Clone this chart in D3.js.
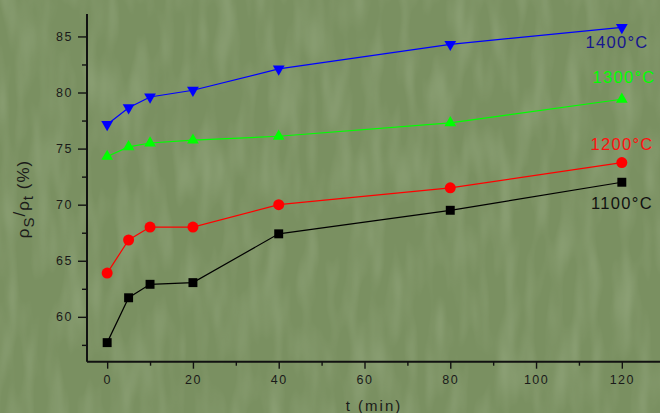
<!DOCTYPE html>
<html>
<head>
<meta charset="utf-8">
<script src="https://cdn.jsdelivr.net/npm/d3@7"></script>
<style>
  html, body { margin: 0; padding: 0; background: #7b9162; }
  svg { display: block; font-family: "Liberation Sans", Arial, sans-serif; }
</style>
</head>
<body>
<svg id="chart"></svg>
<script>
const width = 660, height = 413

// sintering time (min)
const times = [0, 5, 10, 20, 40, 80, 120]
const series_names = ["1100°C", "1200°C", "1300°C", "1400°C"]
// relative density rho_s / rho_t (%)
const d1100 = [57.7, 61.7, 62.9, 63.05, 67.4, 69.5, 72.0]
const d1200 = [63.9, 66.85, 68.0, 68.0, 70.0, 71.5, 73.75]
const d1300 = [74.3, 75.15, 75.5, 75.75, 76.1, 77.3, 79.4]
const d1400 = [77.15, 78.65, 79.6, 80.2, 82.1, 84.3, 85.8]
const x_ticks = [0, 20, 40, 60, 80, 100, 120]
const x_minor = [10, 30, 50, 70, 90, 110]
const y_ticks = [60, 65, 70, 75, 80, 85]
const y_minor = [57.5, 62.5, 67.5, 72.5, 77.5, 82.5]

const styles = [
    {name: series_names[0], values: d1100, color: "#000000", label_color: "#111111", symbol: d3.symbolSquare, size: 80, lx: 622, ly: 203},
    {name: series_names[1], values: d1200, color: "#ff0000", label_color: "#ff1010", symbol: d3.symbolCircle, size: 95, lx: 622, ly: 144},
    {name: series_names[2], values: d1300, color: "#00ff00", label_color: "#00ff00", symbol: d3.symbolTriangle, size: 60, rot: 0, lx: 624, ly: 77},
    {name: series_names[3], values: d1400, color: "#0000ff", label_color: "#16168f", symbol: d3.symbolTriangle, size: 60, rot: 180, lx: 617, ly: 42}
]

const svg = d3.select("#chart")
    .attr("width", width)
    .attr("height", height)

// textured green background
const defs = svg.append("defs")
const filt = defs.append("filter").attr("id", "grain")
    .attr("x", 0).attr("y", 0).attr("width", "100%").attr("height", "100%")
filt.append("feTurbulence")
    .attr("type", "fractalNoise")
    .attr("baseFrequency", "0.06 0.015")
    .attr("numOctaves", 2)
    .attr("seed", 7)
filt.append("feColorMatrix")
    .attr("type", "matrix")
    .attr("values", "0 0 0 0 0.58  0 0 0 0 0.68  0 0 0 0 0.48  0 0 0 1.4 -0.55")

svg.append("rect").attr("width", width).attr("height", height).attr("fill", "#7a9061")
svg.append("rect").attr("width", width).attr("height", height)
    .attr("filter", "url(#grain)").attr("opacity", 0.3)

const x = d3.scaleLinear().domain([-4.7, 128.9]).range([87, 660])
const y = d3.scaleLinear().domain([56, 87]).range([361.7, 14])

// axes
const xaxis = svg.append("g")
    .attr("transform", `translate(0,${y(56)})`)
    .call(d3.axisBottom(x).tickValues(x_ticks).tickSize(7).tickPadding(6).tickFormat(d3.format("d")))
svg.append("g")
    .attr("transform", `translate(0,${y(56)})`)
    .call(d3.axisBottom(x).tickValues(x_minor).tickSize(4).tickFormat(""))
    .call(g => g.select(".domain").remove())

const yaxis = svg.append("g")
    .attr("transform", `translate(${x(-4.7)},0)`)
    .call(d3.axisLeft(y).tickValues(y_ticks).tickSize(9).tickPadding(5).tickFormat(d3.format("d")))
svg.append("g")
    .attr("transform", `translate(${x(-4.7)},0)`)
    .call(d3.axisLeft(y).tickValues(y_minor).tickSize(5).tickFormat(""))
    .call(g => g.select(".domain").remove())

svg.selectAll(".tick line").attr("stroke", "#111").attr("stroke-width", 1.4)
svg.selectAll(".domain").attr("stroke", "#111").attr("stroke-width", 2)
// plain axis lines without end caps
xaxis.select(".domain").attr("d", `M${x(-4.7)},0H660`)
yaxis.select(".domain").attr("d", `M0,${y(56)}V${y(87)}`)

svg.selectAll(".tick text")
    .attr("fill", "#1a1a1a")
    .style("font-size", "12.5px")
    .style("letter-spacing", "1.5px")
    .style("font-family", "'Liberation Sans', Arial, sans-serif")

// axis titles
svg.append("text")
    .attr("x", 374).attr("y", 411)
    .attr("text-anchor", "middle")
    .attr("fill", "#1a1a1a")
    .style("font-size", "15px")
    .style("letter-spacing", "2px")
    .text("t (min)")

const ytitle = svg.append("text")
    .attr("transform", "translate(29,199) rotate(-90)")
    .attr("text-anchor", "middle")
    .attr("fill", "#1a1a1a")
    .style("font-size", "17px")
    .style("letter-spacing", "1px")
ytitle.append("tspan").text("ρ")
ytitle.append("tspan").attr("dy", 5).style("font-size", "15px").text("S")
ytitle.append("tspan").attr("dy", -9).text("/")
ytitle.append("tspan").attr("dy", 4).text("ρ")
ytitle.append("tspan").attr("dy", 4).style("font-size", "15px").text("t")
ytitle.append("tspan").attr("dy", -4).text(" (%)")

// series
const line = d3.line()
    .x((d, i) => x(times[i]))
    .y(d => y(d))

const groups = svg.selectAll(".series")
    .data(styles)
    .enter()
    .append("g")
    .attr("class", "series")

groups.append("path")
    .attr("d", d => line(d.values))
    .attr("fill", "none")
    .attr("stroke", d => d.color)
    .attr("stroke-width", 1.2)

groups.each(function(s) {
    d3.select(this).selectAll("path.mark")
        .data(s.values)
        .enter()
        .append("path")
        .attr("class", "mark")
        .attr("d", d3.symbol().type(s.symbol).size(s.size))
        .attr("transform", (d, i) => `translate(${x(times[i])},${y(d)}) rotate(${s.rot || 0})`)
        .attr("fill", s.color)
})

groups.append("text")
    .attr("x", d => d.lx)
    .attr("y", d => d.ly)
    .attr("dy", "0.36em")
    .attr("text-anchor", "middle")
    .attr("fill", d => d.label_color)
    .style("font-size", "16.5px")
    .style("letter-spacing", "1.3px")
    .text(d => d.name)
</script>
</body>
</html>
